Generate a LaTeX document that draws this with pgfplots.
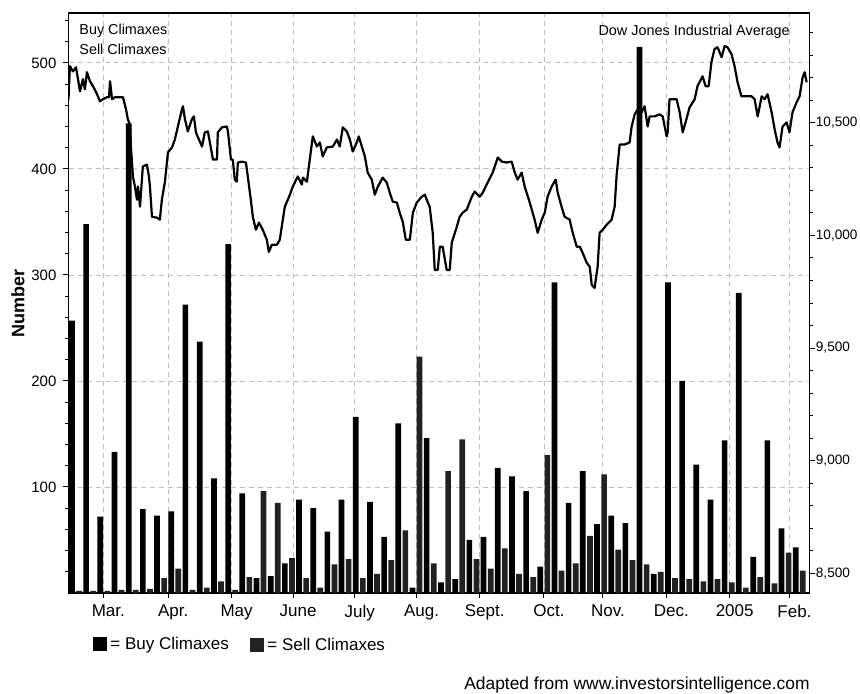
\documentclass[border=0pt]{standalone}
\usepackage{fontspec}
\setmainfont{Liberation Sans}
\usepackage{pgfplots}
\pgfplotsset{compat=1.18}

\definecolor{gridgray}{gray}{0.75}
\definecolor{sellgray}{gray}{0.13}

% weekly climaxes, x = days from 1 March 2004
\pgfplotstableread{
x      y
-16.3  257
-9.3   348
-2.3   72
4.7    133
11.7   443
18.7   79
25.7   73
32.7   77
39.7   272
46.8   237
53.8   108
60.8   329
67.8   94
74.8   14
81.8   16
88.8   28
95.8   88
102.8  80
109.8  58
116.8  88
123.8  166
130.8  86
137.8  53
144.8  160
151.8  5
158.8  146
165.9  10
172.9  13
179.9  50
186.9  53
193.9  118
200.9  110
207.9  96
214.9  25
221.9  293
228.9  85
235.9  115
242.9  65
249.9  73
256.9  66
263.9  515
270.9  18
277.9  293
284.9  200
291.9  121
298.9  88
305.9  144
312.9  283
320.0  34
327.0  144
334.0  61
341.0  43
}\buytable

\pgfplotstableread{
x      y
-12.8  2
-5.8   2
1.2    2
8.2    3
15.2   3
22.2   4
29.2   14
36.2   23
43.2   3
50.3   5
57.3   11
64.3   3
71.3   15
78.3   96
85.3   85
92.3   33
99.3   14
106.3  5
113.3  27
120.3  32
127.3  14
134.3  18
141.3  31
148.3  59
155.3  223
162.3  28
169.4  115
176.4  145
183.4  32
190.4  23
197.4  42
204.4  18
211.4  15
218.4  130
225.4  21
232.4  28
239.4  54
246.4  112
253.4  41
260.4  31
267.4  27
274.4  20
281.4  14
288.4  13
295.4  11
302.4  13
309.4  10
316.4  5
323.5  15
330.5  9
337.5  38
344.5  21
}\selltable

\begin{document}
\begin{tikzpicture}
\useasboundingbox (-34.25pt,-50pt) rectangle (395.75pt,296.5pt);
\begin{axis}[
    at={(0pt,0pt)}, anchor=south west,
    scale only axis,
    width=370.5pt,
    height=290pt,
    xmin=-18, xmax=347.8,
    ymin=0, ymax=547,
    xtick={-0.8,31.2,62.5,92.9,123.3,153.8,185.0,216.7,245.8,277.1,308.4,337.9},
    xticklabels={Mar.,Apr.,May,June,July,Aug.,Sept.,Oct.,Nov.,Dec.,2005,Feb.},
    xtick pos=bottom,
    ytick={100,200,300,400,500},
    minor ytick={20,40,...,540},
    ytick pos=left,
    tick align=outside,
    major tick length=2.5pt,
    minor tick length=1.5pt,
    every tick/.style={black, line width=0.5pt},
    grid=major,
    major grid style={gridgray, dash pattern=on 2.5pt off 2pt, line width=0.4pt},
    axis line style={line width=0.8pt},
    /pgf/number format/assume math mode=true,
    yticklabel style={font=\fontsize{7.5}{9}\selectfont},
    xticklabel style={font=\fontsize{8.5}{10}\selectfont, xshift=2.5pt},
]
    \addplot[ybar, bar width=2.8, bar shift=0pt, fill=black, draw=none] table {\buytable};
    \addplot[ybar, bar width=2.8, bar shift=0pt, fill=sellgray, draw=none] table {\selltable};
\end{axis}

\begin{axis}[
    at={(0pt,0pt)}, anchor=south west,
    scale only axis,
    width=370.5pt,
    height=290pt,
    xmin=-18, xmax=347.8,
    ymin=8412, ymax=10988,
    axis x line=none,
    axis y line*=right,
    ytick={8500,9000,9500,10000,10500},
    minor ytick={8500,8600,...,10900},
    scaled y ticks=false,
    tick align=outside,
    major tick length=2.5pt,
    minor tick length=1.5pt,
    every tick/.style={black, line width=0.5pt},
    axis line style={line width=0.8pt},
    /pgf/number format/assume math mode=true,
    /pgf/number format/1000 sep={,},
    yticklabel style={font=\fontsize{6.8}{8}\selectfont, inner sep=0.5pt},
]
    \addplot[black, line width=1.1pt, line join=round] table {
x      y
-18.0  10605
-17.3  10752
-15.8  10729
-14.3  10747
-13.3  10694
-12.3  10640
-10.9  10694
-9.9   10649
-8.9   10725
-7.4   10685
-5.9   10663
-3.9   10627
-2.5   10596
-1.0   10605
1.0    10614
2.0    10614
2.5    10685
3.5    10605
4.9    10614
8.9    10614
10.4   10560
11.3   10516
12.3   10493
12.8   10395
13.8   10262
14.8   10217
15.8   10159
16.3   10217
17.3   10128
18.7   10306
20.7   10315
21.7   10262
22.2   10217
23.2   10083
25.7   10079
27.1   10070
28.1   10159
29.6   10239
31.1   10369
33.1   10391
34.5   10426
36.0   10484
38.0   10560
38.5   10574
39.5   10516
40.9   10462
42.9   10516
43.9   10529
44.9   10458
46.4   10426
47.9   10395
49.3   10458
50.8   10462
51.8   10413
53.3   10337
55.3   10337
55.7   10458
57.7   10480
60.2   10484
60.7   10462
62.2   10337
63.1   10337
64.1   10248
65.1   10239
65.6   10324
67.6   10328
69.6   10324
70.5   10262
72.0   10159
73.0   10083
74.5   10025
76.0   10057
77.9   10025
79.9   9981
80.9   9927
82.4   9959
84.9   9959
86.3   9981
87.8   10070
88.8   10128
91.3   10181
92.7   10217
95.2   10262
97.2   10226
97.7   10257
99.7   10239
101.1  10337
102.6  10440
104.6  10395
106.1  10413
107.5  10351
109.5  10391
112.5  10395
114.5  10426
115.9  10395
117.4  10480
119.4  10462
120.9  10426
122.3  10373
124.3  10413
125.3  10440
126.8  10395
128.3  10351
129.7  10279
131.7  10248
133.2  10181
134.7  10217
137.1  10257
139.1  10235
140.6  10190
142.1  10150
144.1  10146
145.5  10101
147.0  10061
148.5  9981
150.5  9981
152.0  10101
153.9  10146
156.4  10172
157.9  10181
159.4  10146
160.3  10128
161.8  10012
162.8  9847
164.3  9847
165.3  9950
166.7  9950
168.7  9847
170.2  9847
171.2  9968
173.7  10039
175.1  10083
176.6  10101
178.6  10115
181.1  10172
182.5  10195
185.0  10172
186.5  10190
188.9  10235
191.4  10279
193.9  10346
195.9  10328
198.3  10324
200.8  10328
202.3  10279
203.7  10248
205.7  10279
207.2  10217
209.7  10146
212.1  10070
213.6  10012
215.6  10070
217.1  10101
218.5  10172
220.5  10217
222.5  10248
223.5  10190
225.4  10128
226.9  10083
229.4  10070
230.9  10012
232.9  9950
234.4  9950
235.8  9923
237.8  9879
239.3  9861
240.3  9781
241.7  9767
243.2  9861
244.2  10012
245.7  10025
247.7  10048
250.1  10070
251.6  10128
252.6  10270
254.1  10404
256.5  10404
259.0  10413
260.0  10484
261.5  10538
263.0  10560
264.9  10547
266.4  10574
267.9  10484
268.9  10529
271.3  10529
273.8  10538
275.3  10529
277.3  10440
277.8  10458
278.7  10605
282.2  10605
283.7  10547
285.2  10458
286.6  10502
288.6  10569
291.1  10605
292.5  10663
295.0  10707
296.5  10663
298.0  10663
299.4  10770
300.9  10828
302.4  10836
304.4  10792
305.9  10841
307.3  10836
309.3  10805
310.8  10752
312.3  10680
314.2  10618
316.7  10618
319.2  10618
320.7  10605
322.2  10529
324.2  10618
325.6  10605
327.1  10627
329.1  10547
330.6  10471
332.0  10413
333.0  10391
334.5  10484
336.5  10502
337.9  10458
339.4  10547
341.4  10591
342.9  10618
344.4  10702
345.4  10725
346.4  10680
    };
\end{axis}

% texts inside the frame
\node[anchor=west, inner sep=0pt, font=\fontsize{7.2}{8}\selectfont] at (5.25pt,281pt) {Buy Climaxes};
\node[anchor=west, inner sep=0pt, font=\fontsize{7.2}{8}\selectfont] at (5.25pt,272pt) {Sell Climaxes};
\node[anchor=east, inner sep=0pt, font=\fontsize{7.2}{8}\selectfont] at (360.75pt,280.5pt) {Dow Jones Industrial Average};

% y label
\node[rotate=90, inner sep=0pt, font=\fontsize{9}{10}\selectfont\bfseries] at (-25.25pt,145pt) {Number};

% legend below the axis
\node[anchor=west, inner sep=0pt, font=\fontsize{8.5}{10}\selectfont] at (12.25pt,-26pt)
    {\textcolor{black}{\rule[-0.6pt]{7pt}{7pt}}\hspace{1.5pt}= Buy Climaxes};
\node[anchor=west, inner sep=0pt, font=\fontsize{8.5}{10}\selectfont] at (90.75pt,-26pt)
    {\textcolor{sellgray}{\rule[-0.6pt]{7pt}{7pt}}\hspace{1.5pt}= Sell Climaxes};

% source
\node[anchor=east, inner sep=0pt, font=\fontsize{8.7}{10}\selectfont] at (370.75pt,-46pt)
    {Adapted from www.investorsintelligence.com};
\end{tikzpicture}
\end{document}
